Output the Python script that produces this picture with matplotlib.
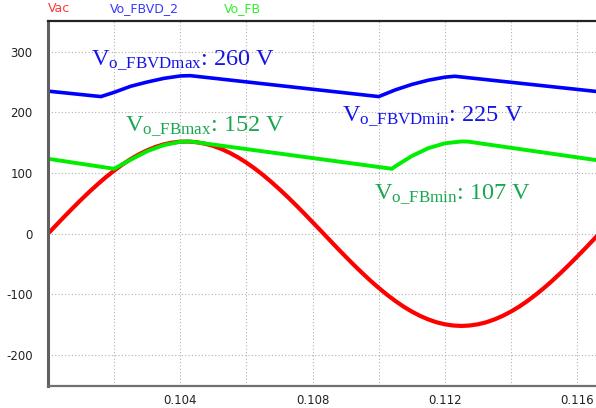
import matplotlib
matplotlib.use('Agg')
import matplotlib.pyplot as plt

# Vac (V)
t_vac = [0.10000, 0.10025, 0.10050, 0.10075, 0.10100, 0.10125, 0.10150, 0.10175,
         0.10200, 0.10225, 0.10250, 0.10275, 0.10300, 0.10325, 0.10350, 0.10375,
         0.10400, 0.10425, 0.10450, 0.10475, 0.10500, 0.10525, 0.10550, 0.10575,
         0.10600, 0.10625, 0.10650, 0.10675, 0.10700, 0.10725, 0.10750, 0.10775,
         0.10800, 0.10825, 0.10850, 0.10875, 0.10900, 0.10925, 0.10950, 0.10975,
         0.11000, 0.11025, 0.11050, 0.11075, 0.11100, 0.11125, 0.11150, 0.11175,
         0.11200, 0.11225, 0.11250, 0.11275, 0.11300, 0.11325, 0.11350, 0.11375,
         0.11400, 0.11425, 0.11450, 0.11475, 0.11500, 0.11525, 0.11550, 0.11575,
         0.11600, 0.11625, 0.11650, 0.11675]
vac = [0, 14.3, 28.5, 42.4, 56, 69, 81.4, 93.2,
       104, 114, 123, 130.8, 137.5, 143, 147.2, 150.1,
       151.7, 151.9, 150.8, 148.3, 144.6, 139.5, 133.2, 125.7,
       117.1, 107.5, 96.9, 85.4, 73.2, 60.4, 47, 33.2,
       19, 4.8, -9.5, -23.8, -37.8, -51.5, -64.7, -77.4,
       -89.3, -100.5, -110.8, -120.1, -128.3, -135.4, -141.3, -146,
       -149.3, -151.3, -152, -151.3, -149.3, -146, -141.3, -135.4,
       -128.3, -120.1, -110.8, -100.5, -89.3, -77.4, -64.7, -51.5,
       -37.8, -23.8, -9.5, 4.8]

# Vo_FBVD_2
t_fbvd = [0.1000, 0.1016, 0.1020, 0.1025, 0.1030, 0.1035, 0.1040, 0.1043,
          0.1100, 0.1105, 0.1110, 0.1115, 0.1120, 0.1123, 0.1170]
v_fbvd = [235, 226, 233, 243, 250, 256, 260, 260.5,
          226, 237, 246, 253, 258, 259.5, 232]

# Vo_FB
t_fb = [0.1000, 0.1020, 0.1025, 0.1030, 0.1035, 0.1040, 0.1043,
        0.1104, 0.1105, 0.1110, 0.1115, 0.1120, 0.1125, 0.1127, 0.1170]
v_fb = [123.5, 107, 122, 136, 146, 151.5, 152,
        107, 111, 128, 141, 149, 152, 151.8, 118]

legend_names = ['Vac', 'Vo_FBVD_2', 'Vo_FB']
legend_colors = ['#ff3838', '#3a3aff', '#30f030']

plt.rcParams['mathtext.fontset'] = 'custom'
plt.rcParams['mathtext.rm'] = 'Liberation Serif'
plt.rcParams['mathtext.it'] = 'Liberation Serif'
plt.rcParams['axes.unicode_minus'] = False

fig = plt.figure(figsize=(5.96, 4.08), dpi=100)
ax = fig.add_axes([48 / 596, 22.3 / 408, 548 / 596, 365.2 / 408])

ax.plot(t_vac, vac, color='#ff0000', lw=3.0)
ax.plot(t_fbvd, v_fbvd, color='#0000ff', lw=2.6)
ax.plot(t_fb, v_fb, color='#00ee00', lw=2.8)

ax.set_xlim(0.1, 0.11657)
ax.set_ylim(-250.5, 351.4)
ax.set_xticks([0.102, 0.104, 0.106, 0.108, 0.110, 0.112, 0.114, 0.116])
ax.set_xticklabels(['', '0.104', '', '0.108', '', '0.112', '', '0.116'])
ax.set_yticks([-200, -100, 0, 100, 200, 300])
ax.tick_params(length=0, labelsize=8.5, labelcolor='#222222', pad=6)
ax.tick_params(axis='y', pad=11)
ax.grid(True, color='#b0b0b0', ls=(0, (1, 2)), lw=0.8)

ax.spines['right'].set_visible(False)
ax.spines['top'].set_color('#222222')
ax.spines['top'].set_linewidth(1.6)
ax.spines['left'].set_color('#606060')
ax.spines['left'].set_linewidth(2.2)
ax.spines['bottom'].set_color('#707070')
ax.spines['bottom'].set_linewidth(1.6)

# legend names above the plot
for x, name, c in zip([48, 110, 224], legend_names, legend_colors):
    fig.text(x / 596, 1 - 12 / 408, name, color=c, fontsize=9,
             family='DejaVu Sans', ha='left', va='baseline')

serif = dict(family='Liberation Serif', fontsize=17.5, va='baseline', ha='left')
ax.text(0.1013, 278.6, r'V$_{\mathrm{o\_FBVDmax}}$: 260 V', color='#1414e8', **serif)
ax.text(0.1089, 185.4, r'V$_{\mathrm{o\_FBVDmin}}$: 225 V', color='#1414e8', **serif)
ax.text(0.10234, 169.3, r'V$_{\mathrm{o\_FBmax}}$: 152 V', color='#1aa650', **serif)
ax.text(0.10987, 58.3, r'V$_{\mathrm{o\_FBmin}}$: 107 V', color='#1aa650', **serif)

fig.savefig('out.png', dpi=100)
